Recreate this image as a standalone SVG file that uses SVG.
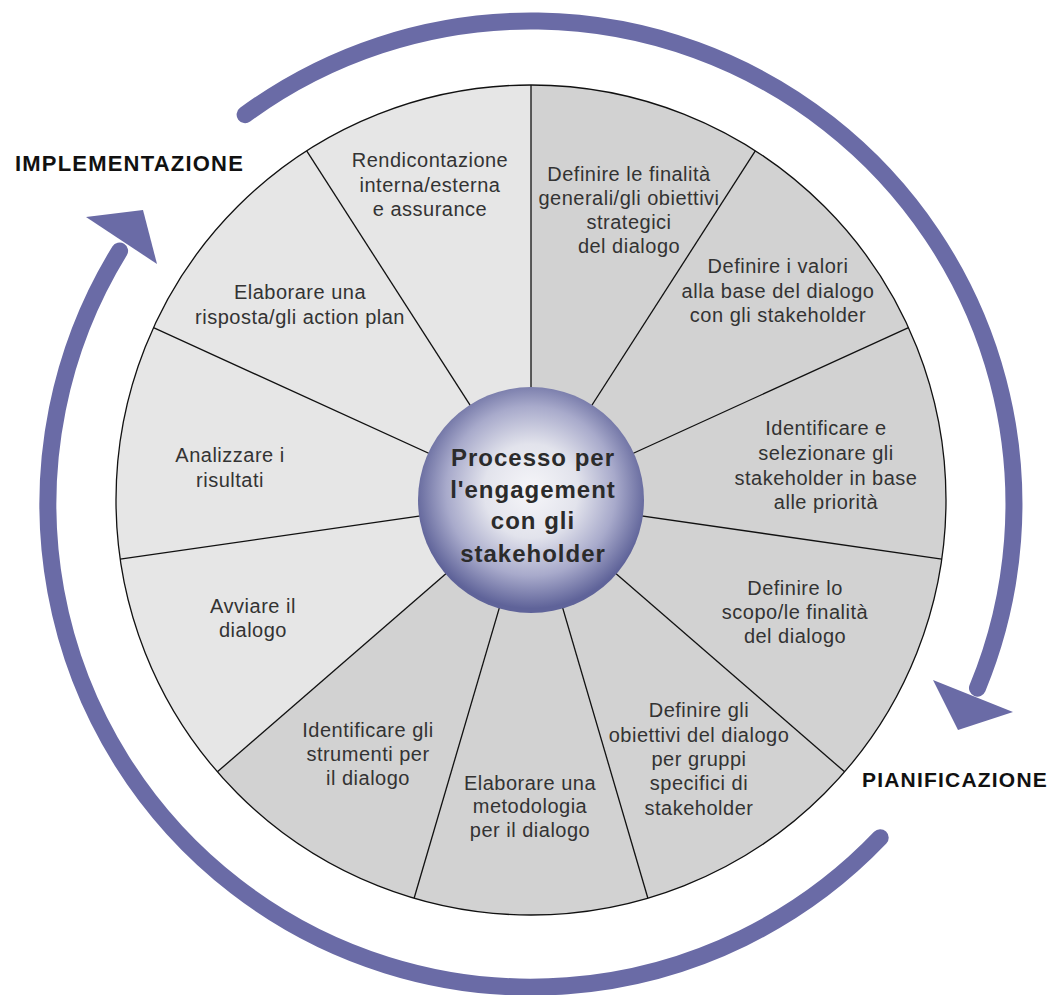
<svg xmlns="http://www.w3.org/2000/svg" width="1055" height="995" viewBox="0 0 1055 995">
<defs>
<radialGradient id="sphere" cx="50%" cy="46%" r="52%">
<stop offset="0" stop-color="#f6f6f9"/>
<stop offset="0.4" stop-color="#e2e3ec"/>
<stop offset="0.72" stop-color="#a8aacb"/>
<stop offset="1" stop-color="#5f6399"/>
</radialGradient>
<style>
.seg{font-family:"Liberation Sans",Arial,Helvetica,sans-serif;font-size:20px;fill:#333;text-anchor:middle;letter-spacing:0.5px}
.phase{font-family:"Liberation Sans",Arial,Helvetica,sans-serif;font-weight:bold;fill:#111;letter-spacing:1.2px}
.hub{font-family:"Liberation Sans",Arial,Helvetica,sans-serif;font-weight:bold;font-size:24px;fill:#2b2b2b;text-anchor:middle;letter-spacing:1px}
.spoke{stroke:#111;stroke-width:1.3;fill:none}
.cycle{stroke:#6a6ba6;stroke-width:17;fill:none;stroke-linecap:round}
.head{fill:#6a6ba6}
</style>
</defs>
<rect width="1055" height="995" fill="#fff"/>

<g id="cycle-arrows">
<path class="cycle" d="M245.1,114.7 A483,483 0 0 1 977.5,688.1"/>
<path class="cycle" d="M880.2,837.7 A483,483 0 0 1 119.6,250.9"/>
<polygon class="head" points="933,680 1013,712 958,730"/>
<polygon class="head" points="86,217 143,210 157,264"/>
</g>

<g id="wheel">
<circle cx="531" cy="500" r="415" fill="#e6e6e6"/>
<path d="M531,500 L531,85 A415,415 0 1 1 217.4,771.8 Z" fill="#d2d2d2"/>
<circle cx="531" cy="500" r="415" class="spoke"/>
</g>

<g id="connectors">
<line class="spoke" x1="531" y1="500" x2="531" y2="85"/>
<line class="spoke" x1="531" y1="500" x2="755.3" y2="150.9"/>
<line class="spoke" x1="531" y1="500" x2="908.5" y2="327.6"/>
<line class="spoke" x1="531" y1="500" x2="941.8" y2="559.1"/>
<line class="spoke" x1="531" y1="500" x2="844.6" y2="771.8"/>
<line class="spoke" x1="531" y1="500" x2="647.9" y2="898.2"/>
<line class="spoke" x1="531" y1="500" x2="414.1" y2="898.2"/>
<line class="spoke" x1="531" y1="500" x2="217.4" y2="771.8"/>
<line class="spoke" x1="531" y1="500" x2="120.2" y2="559.1"/>
<line class="spoke" x1="531" y1="500" x2="153.5" y2="327.6"/>
<line class="spoke" x1="531" y1="500" x2="306.7" y2="150.9"/>
</g>

<g id="hub">
<circle cx="531" cy="500" r="113" fill="url(#sphere)"/>
<text class="hub" x="533" y="466">Processo per</text>
<text class="hub" x="533" y="498">l'engagement</text>
<text class="hub" x="533" y="529">con gli</text>
<text class="hub" x="533" y="562">stakeholder</text>
</g>

<g id="seg-rendicontazione">
<text class="seg" x="430" y="167">Rendicontazione</text>
<text class="seg" x="430" y="192">interna/esterna</text>
<text class="seg" x="430" y="216">e assurance</text>
</g>
<g id="seg-finalita">
<text class="seg" x="629" y="181">Definire le finalità</text>
<text class="seg" x="629" y="205">generali/gli obiettivi</text>
<text class="seg" x="629" y="229">strategici</text>
<text class="seg" x="629" y="253">del dialogo</text>
</g>
<g id="seg-valori">
<text class="seg" x="778" y="273">Definire i valori</text>
<text class="seg" x="778" y="298">alla base del dialogo</text>
<text class="seg" x="778" y="322">con gli stakeholder</text>
</g>
<g id="seg-identificare">
<text class="seg" x="826" y="435">Identificare e</text>
<text class="seg" x="826" y="460">selezionare gli</text>
<text class="seg" x="826" y="485">stakeholder in base</text>
<text class="seg" x="826" y="509">alle priorità</text>
</g>
<g id="seg-scopo">
<text class="seg" x="795" y="595">Definire lo</text>
<text class="seg" x="795" y="619">scopo/le finalità</text>
<text class="seg" x="795" y="643">del dialogo</text>
</g>
<g id="seg-gruppi">
<text class="seg" x="699" y="717">Definire gli</text>
<text class="seg" x="699" y="742">obiettivi del dialogo</text>
<text class="seg" x="699" y="766">per gruppi</text>
<text class="seg" x="699" y="790">specifici di</text>
<text class="seg" x="699" y="815">stakeholder</text>
</g>
<g id="seg-metodologia">
<text class="seg" x="530" y="790">Elaborare una</text>
<text class="seg" x="530" y="813">metodologia</text>
<text class="seg" x="530" y="837">per il dialogo</text>
</g>
<g id="seg-strumenti">
<text class="seg" x="368" y="737">Identificare gli</text>
<text class="seg" x="368" y="761">strumenti per</text>
<text class="seg" x="368" y="785">il dialogo</text>
</g>
<g id="seg-avviare">
<text class="seg" x="253" y="613">Avviare il</text>
<text class="seg" x="253" y="637">dialogo</text>
</g>
<g id="seg-analizzare">
<text class="seg" x="230" y="462">Analizzare i</text>
<text class="seg" x="230" y="487">risultati</text>
</g>
<g id="seg-risposta">
<text class="seg" x="300" y="299">Elaborare una</text>
<text class="seg" x="300" y="324">risposta/gli action plan</text>
</g>

<g id="label-implementazione">
<text class="phase" x="15" y="171" font-size="22">IMPLEMENTAZIONE</text>
</g>
<g id="label-pianificazione">
<text class="phase" x="862" y="787" font-size="21">PIANIFICAZIONE</text>
</g>
</svg>
